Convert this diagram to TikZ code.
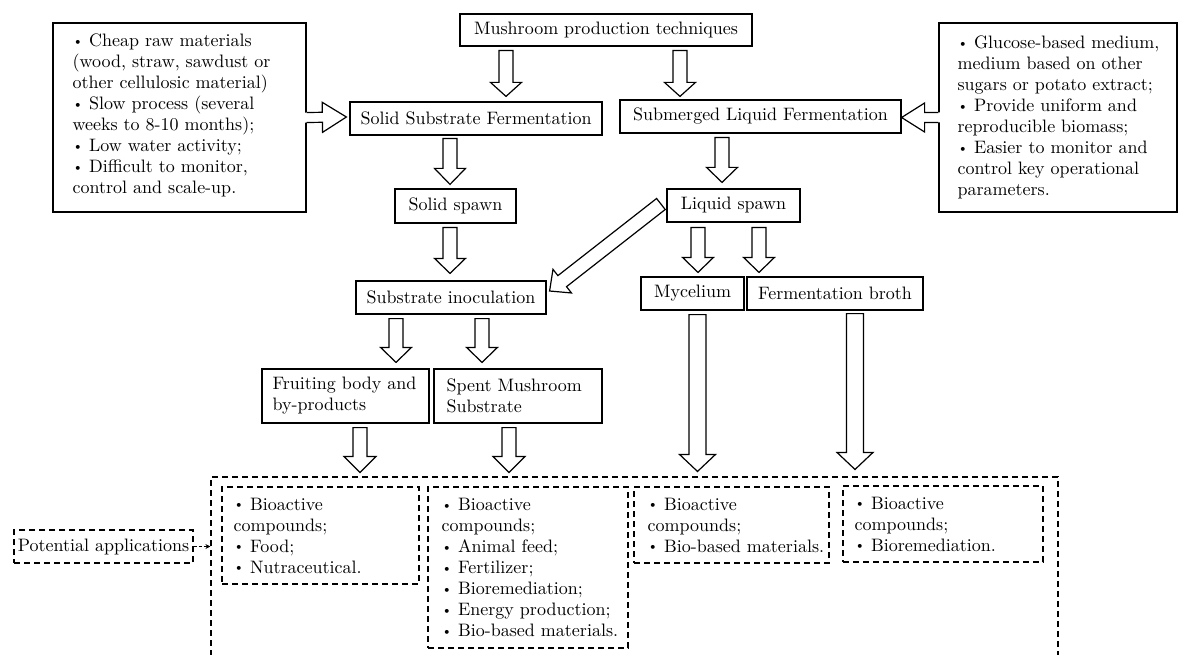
\documentclass[tikz,border=0pt]{standalone}
\usepackage{fontspec}
\setmainfont{lmroman10-regular}[Extension=.otf]
\usetikzlibrary{calc,arrows.meta}
\newcommand\bul{\raisebox{0.06em}{\scalebox{0.75}{\textbullet}}\ }
% closed block arrow: from, to, shaft half width, head half width, head length
\newcommand\blockarrow[5]{%
  \coordinate (ba-a) at (#1);
  \coordinate (ba-b) at (#2);
  \coordinate (ba-h) at ($(ba-b)!#5!(ba-a)$);
  \filldraw[barrow] ($(ba-a)!#3!90:(ba-b)$) -- ($(ba-h)!#3!90:(ba-b)$) -- ($(ba-h)!#4!90:(ba-b)$) -- (ba-b) -- ($(ba-h)!#4!-90:(ba-b)$) -- ($(ba-h)!#3!-90:(ba-b)$) -- ($(ba-a)!#3!-90:(ba-b)$) -- cycle;
}
% block arrow whose tail opens into the box it leaves
\newcommand\blockarrowopen[5]{%
  \coordinate (ba-a) at (#1);
  \coordinate (ba-b) at (#2);
  \coordinate (ba-h) at ($(ba-b)!#5!(ba-a)$);
  \coordinate (ba-c) at ($(ba-a)!-2pt!(ba-b)$);
  \fill[white] ($(ba-c)!#3!90:(ba-b)$) -- ($(ba-h)!#3!90:(ba-b)$) -- ($(ba-h)!#4!90:(ba-b)$) -- (ba-b) -- ($(ba-h)!#4!-90:(ba-b)$) -- ($(ba-h)!#3!-90:(ba-b)$) -- ($(ba-c)!#3!-90:(ba-b)$) -- cycle;
  \draw[barrow] ($(ba-a)!#3!90:(ba-b)$) -- ($(ba-h)!#3!90:(ba-b)$) -- ($(ba-h)!#4!90:(ba-b)$) -- (ba-b) -- ($(ba-h)!#4!-90:(ba-b)$) -- ($(ba-h)!#3!-90:(ba-b)$) -- ($(ba-a)!#3!-90:(ba-b)$);
}
\begin{document}
\begin{tikzpicture}[x=1pt,y=-1pt,
  every node/.style={font=\fontsize{18}{21}\selectfont, inner sep=0pt},
  box/.style={draw, line width=1.2pt},
  dbox/.style={draw, line width=1.1pt, dash pattern=on 6pt off 4pt},
  txt/.style={align=left, anchor=west},
  barrow/.style={draw, fill=white, line width=1.2pt, line join=miter}]
\useasboundingbox (0,0) rectangle (1178,655);
\fill[white] (0,0) rectangle (1178,655);

% solid boxes
\node[box, minimum width=292pt, minimum height=32pt] (mpt) at (606,30) {Mushroom production techniques};
\node[box, minimum width=252pt, minimum height=33pt] (ssf) at (476,118.5) {Solid Substrate Fermentation};
\node[box, minimum width=281pt, minimum height=33pt] (slf) at (760.5,116.5) {Submerged Liquid Fermentation};
\node[box, minimum width=121pt, minimum height=34pt] (ss) at (455.5,206) {Solid spawn};
\node[box, minimum width=133pt, minimum height=33pt] (ls) at (733.5,205.5) {Liquid spawn};
\node[box, minimum width=190pt, minimum height=33pt] (si) at (451,297.5) {Substrate inoculation};
\node[box, minimum width=103pt, minimum height=33pt] (myc) at (692.5,293.5) {Mycelium};
\node[box, minimum width=176pt, minimum height=33pt] (broth) at (835,293.5) {Fermentation broth};
\node[box, minimum width=167pt, minimum height=54pt] (fb) at (345.5,396) {};
\node[txt] (fbt) at ($(fb.west)+(11,0)$) {Fruiting body and\\by-products};
\node[box, minimum width=168pt, minimum height=54pt] (sms) at (518,396) {};
\node[txt] (smst) at ($(sms.west)+(13,0)$) {Spent Mushroom\\Substrate};

\node[box, minimum width=253pt, minimum height=189pt] (lbox) at (179.5,117.5) {};
\node[txt] (lboxt) at ($(lbox.west)+(20,-2)$) {\bul Cheap raw materials\\(wood, straw, sawdust or\\other cellulosic material)\\\bul Slow process (several\\weeks to 8-10 months);\\\bul Low water activity;\\\bul Difficult to monitor,\\control and scale-up.};
\node[box, minimum width=238pt, minimum height=189pt] (rbox) at (1058,117.5) {};
\node[txt] (rboxt) at ($(rbox.west)+(19,0)$) {\bul Glucose-based medium,\\medium based on other\\sugars or potato extract;\\\bul Provide uniform and\\reproducible biomass;\\\bul Easier to monitor and\\control key operational\\parameters.};

% dashed boxes
\node[dbox, minimum width=847pt, minimum height=183pt] (outer) at (634.5,568.5) {};
\node[dbox, minimum width=197pt, minimum height=97pt] (d1) at (320.5,535.5) {};
\node[txt] (d1t) at ($(d1.west)+(12,0)$) {\bul Bioactive\\compounds;\\\bul Food;\\\bul Nutraceutical.};
\node[dbox, minimum width=200pt, minimum height=161pt] (d2) at (528,567.5) {};
\node[txt] (d2t) at ($(d2.west)+(14,0)$) {\bul Bioactive\\compounds;\\\bul Animal feed;\\\bul Fertilizer;\\\bul Bioremediation;\\\bul Energy production;\\\bul Bio-based materials.};
\node[dbox, minimum width=195pt, minimum height=76pt] (d3) at (731.5,525) {};
\node[txt] (d3t) at ($(d3.west)+(14,0)$) {\bul Bioactive\\compounds;\\\bul Bio-based materials.};
\node[dbox, minimum width=200pt, minimum height=76pt] (d4) at (943,524) {};
\node[txt] (d4t) at ($(d4.west)+(12,0)$) {\bul Bioactive\\compounds;\\\bul Bioremediation.};
\node[dbox, minimum width=179pt, minimum height=33pt] (pa) at (103.5,546.5) {Potential applications};
\draw[line width=1pt, dash pattern=on 3pt off 2pt, -{Stealth[length=5pt,width=5pt]}] (pa.east) -- (pa.east -| outer.west);

% block arrows
\blockarrow{$(mpt.south)+(-100,4)$}{$(ssf.north)+(30,-5)$}{7pt}{15.5pt}{14pt}
\blockarrow{$(mpt.south)+(74,4)$}{$(slf.north)+(-80.5,-3)$}{7pt}{15.5pt}{14pt}
\blockarrow{$(ssf.south)+(-26,3)$}{$(ss.north)+(-5.5,-4)$}{7pt}{15.5pt}{16pt}
\blockarrow{$(slf.south)+(-38.5,4)$}{$(ls.north)+(-11.5,-6)$}{7pt}{15.5pt}{15pt}
\blockarrow{$(ss.south)+(-5.5,4)$}{$(si.north)+(-1,-7)$}{7pt}{15.5pt}{15pt}
\blockarrow{$(ls.south)+(-35.5,5)$}{$(myc.north)+(5.5,-4)$}{7pt}{15.5pt}{15pt}
\blockarrow{$(ls.south)+(25.5,5)$}{$(broth.north)+(-76,-4)$}{7pt}{15.5pt}{15pt}
\blockarrow{$(ls.west)+(-5.5,-1.5)$}{$(si.east)+(3,-6.5)$}{7pt}{15pt}{16pt}
\blockarrow{$(si.south)+(-55,4)$}{$(fb.north)+(50.5,-6)$}{7pt}{15.5pt}{15pt}
\blockarrow{$(si.south)+(31,4)$}{$(sms.north)+(-36,-6)$}{7pt}{15.5pt}{15pt}
\blockarrow{$(fb.south)+(14.5,4)$}{$(outer.north)+(-274.5,-4)$}{7pt}{16pt}{16pt}
\blockarrow{$(sms.south)+(-9,4)$}{$(outer.north)+(-125.5,-4)$}{7pt}{16pt}{16pt}
\blockarrow{$(myc.south)+(5,4)$}{$(outer.north)+(63,-5)$}{8.5pt}{18pt}{17pt}
\blockarrow{$(broth.south)+(20,3)$}{$(outer.north)+(220.5,-7)$}{8.5pt}{18pt}{17pt}
\blockarrowopen{lbox.east}{$(ssf.west)+(-3,-1.5)$}{5pt}{15pt}{24pt}
\blockarrowopen{rbox.west}{$(slf.east)+(0,1)$}{5pt}{14.5pt}{23pt}
\end{tikzpicture}
\end{document}
